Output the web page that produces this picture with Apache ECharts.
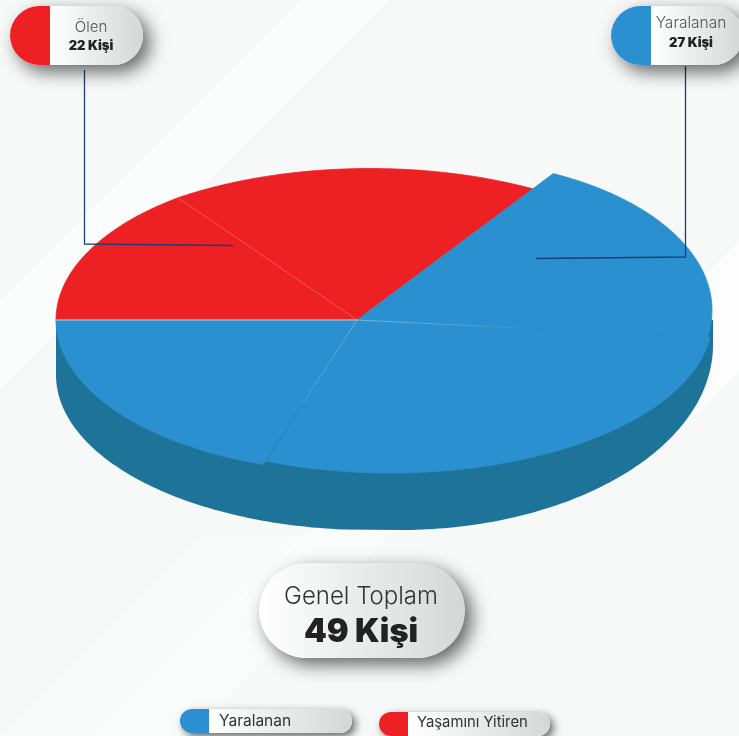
<!DOCTYPE html>
<html lang="tr">

<head>
  <meta charset="UTF-8">
  <title>Genel Toplam</title>
  <style>
    html, body { margin: 0; padding: 0; background: #f7f8f8; }
    #main { width: 739px; height: 736px; }
  </style>
</head>

<body>
  <div id="main"></div>
  <script src="https://cdn.jsdelivr.net/npm/echarts@6/dist/echarts.min.js"></script>
  <script>
    // values
    const categories = ['Ölen', 'Yaralanan'];
    const categoryTotals = [22, 27];
    const legendNames = ['Yaralanan', 'Yaşamını Yitiren'];
    const totalTitle = 'Genel Toplam';
    const unit = 'Kişi';
    // slice sizes as drawn, clockwise from 9 o'clock (the picture is not to scale with the totals)
    const sliceSizes = [53.5, 70.6, 61.5, 102.5, 71.9];
    const sliceGroups = [0, 0, 1, 1, 1];

    const colors = ['#ed2124', '#2a90d0'];
    const wallColor = '#1e7399';
    const leaderColor = '#1d3f73';

    // the drawn disc: apex, flattening and the outline of every slice (the slices do not share one ellipse)
    const apex = [357, 320];
    const flatten = 0.505;
    const outlines = [
      { cx: 357, cy: 320, rx: 301, ry: 152 },
      { cx: 370, cy: 320, rx: 325, ry: 151.5 },
      { cx: 440, cy: 310, rx: 272, ry: 150 },
      { cx: 390, cy: 320, rx: 322, ry: 153 },
      { cx: 357, cy: 320, rx: 301, ry: 152 }
    ];

    const sizeSum = sliceSizes.reduce((a, b) => a + b, 0);
    const startOf = (i) => sliceSizes.slice(0, i).reduce((a, b) => a + b, 0) / sizeSum * 360;

    // where a ray from the apex leaves the slice outline
    function edgePoint(deg, o) {
      const a = deg * Math.PI / 180;
      const dx = -Math.cos(a), dy = -Math.sin(a) * flatten;
      const px = (apex[0] - o.cx) / o.rx, py = (apex[1] - o.cy) / o.ry;
      const qx = dx / o.rx, qy = dy / o.ry;
      const A = qx * qx + qy * qy, B = 2 * (px * qx + py * qy), C = px * px + py * py - 1;
      const t = (-B + Math.sqrt(B * B - 4 * A * C)) / (2 * A);
      return [apex[0] + dx * t, apex[1] + dy * t];
    }

    function renderSlice(params, api) {
      const i = params.dataIndex;
      const from = startOf(i), to = from + api.value(0) / sizeSum * 360;
      const points = [apex];
      for (let d = from; d < to; d += 0.5) points.push(edgePoint(d, outlines[i]));
      points.push(edgePoint(to, outlines[i]));
      const c = colors[sliceGroups[api.value(1)]];
      return {
        type: 'polygon',
        shape: { points: points },
        style: { fill: c, stroke: c, lineWidth: 0.8 }
      };
    }

    const seamStops = [
      [[0, 'rgba(205,225,240,0.85)'], [1, 'rgba(205,225,240,0.85)']],
      [[0, 'rgba(255,255,255,0.3)'], [1, 'rgba(255,255,255,0.3)']],
      null,
      [[0, 'rgba(255,255,255,0.5)'], [0.42, 'rgba(255,255,255,0.12)'], [0.5, 'rgba(255,255,255,0)'], [1, 'rgba(255,255,255,0)']],
      [[0, 'rgba(255,255,255,0.4)'], [0.55, 'rgba(255,255,255,0.2)'], [0.6, 'rgba(20,90,130,0.3)'], [1, 'rgba(20,90,130,0.45)']]
    ];

    function renderSeam(params) {
      const i = params.dataIndex;
      if (!seamStops[i]) return null;
      const end = edgePoint(startOf(i), outlines[i]);
      const stops = seamStops[i].map((s) => ({ offset: s[0], color: s[1] }));
      return {
        type: 'line',
        shape: { x1: apex[0], y1: apex[1], x2: end[0], y2: end[1] },
        style: {
          lineWidth: i === 0 ? 1 : 0.7,
          fill: null,
          stroke: new echarts.graphic.LinearGradient(apex[0], apex[1], end[0], end[1], stops, true)
        }
      };
    }

    // side wall of the disc, left and right lower arcs
    function wallPoints() {
      const pts = [[56, 320]];
      for (let a = 180; a >= 95; a -= 1) {
        const r = a * Math.PI / 180;
        pts.push([370 + 314 * Math.cos(r), 375 + 155 * Math.sin(r)]);
      }
      for (let a = 90; a >= 0; a -= 1) {
        const r = a * Math.PI / 180;
        pts.push([400 + 313 * Math.cos(r), 345 + 185 * Math.sin(r)]);
      }
      pts.push([713, 320]);
      return pts;
    }

    const pillGradient = () => new echarts.graphic.LinearGradient(0, 0, 1, 0, [
      { offset: 0, color: '#ffffff' },
      { offset: 1, color: '#d3d8d7' }
    ]);

    function pill(x, y, w, h, capW, capColor, shadow) {
      const r = h / 2;
      const els = [{
        type: 'rect', z: 5,
        shape: { x: x, y: y, width: w, height: h, r: r },
        style: {
          fill: capColor ? '#ffffff' : pillGradient(),
          shadowBlur: shadow, shadowColor: 'rgba(0,0,0,0.6)',
          shadowOffsetX: shadow * 0.38, shadowOffsetY: shadow * 0.38
        }
      }];
      if (capColor) {
        els.push({
          type: 'rect', z: 6,
          shape: { x: x + capW, y: y, width: w - capW, height: h, r: [0, r, r, 0] },
          style: { fill: pillGradient() }
        });
        els.push({
          type: 'rect', z: 6,
          shape: { x: x, y: y, width: capW, height: h, r: [r, 0, 0, r] },
          style: { fill: capColor }
        });
      }
      return els;
    }

    function label(text, x, y, size, weight, color, align) {
      return {
        type: 'text', z: 7, x: x, y: y,
        style: {
          text: text, fill: color, align: align || 'center', verticalAlign: 'middle',
          font: weight + ' ' + size + 'px Inter, "Noto Sans", sans-serif'
        }
      };
    }

    // faint diagonal light bands of the backdrop
    function band(x0, y0, x1, width, alpha) {
      const dy = x1 - x0;
      return {
        type: 'polygon', z: 0,
        shape: { points: [[x0, y0], [x1, y0 - dy], [x1 + width, y0 - dy], [x0 + width, y0]] },
        style: { fill: 'rgba(255,255,255,' + alpha + ')' }
      };
    }

    const total = categoryTotals.reduce((a, b) => a + b, 0);
    const graphics = [
      band(-100, 400, 300, 90, 0.55),
      band(560, 420, 800, 130, 0.7),
      band(100, 736, 560, 90, 0.4),
      band(0, 736, 200, 120, 0.3),
      { type: 'polygon', z: 1, shape: { points: wallPoints() }, style: { fill: wallColor } },
      { type: 'polyline', z: 4, shape: { points: [[84.5, 70], [84.5, 244], [233, 245.5]] }, style: { stroke: leaderColor, lineWidth: 1.3, fill: null } },
      { type: 'polyline', z: 4, shape: { points: [[685.5, 66], [685.5, 257], [536, 258.5]] }, style: { stroke: leaderColor, lineWidth: 1.3, fill: null } }
    ].concat(
      pill(10, 6, 133, 59, 40, colors[0], 18),
      label(categories[0], 91, 27, 15, 300, '#555'),
      label(categoryTotals[0] + ' ' + unit, 91, 46, 13, 900, '#222'),
      pill(611, 6, 132, 59, 40, colors[1], 18),
      label(categories[1], 691, 23, 15.5, 300, '#555'),
      label(categoryTotals[1] + ' ' + unit, 691, 43, 13, 900, '#222'),
      pill(259, 563, 206, 95, 0, null, 18),
      label(totalTitle, 361, 596.5, 24, 300, '#333'),
      label(total + ' ' + unit, 361, 632.5, 32.5, 900, '#222'),
      pill(180, 709, 172, 24, 29, colors[1], 9),
      label(legendNames[0], 219, 721, 15.5, 400, '#333', 'left'),
      pill(379, 712, 171, 24, 29, colors[0], 9),
      label(legendNames[1], 417, 723, 14.8, 400, '#333', 'left')
    );

    const sliceData = sliceSizes.map((v, i) => [v, i]);
    const myChart = echarts.init(document.getElementById('main'));
    myChart.setOption({
      animation: false,
      backgroundColor: '#f7f8f8',
      graphic: { elements: graphics },
      series: [
        { type: 'custom', coordinateSystem: 'none', z: 2, silent: true, renderItem: renderSlice, data: sliceData },
        { type: 'custom', coordinateSystem: 'none', z: 3, silent: true, renderItem: renderSeam, data: sliceData }
      ]
    });
  </script>
</body>

</html>
